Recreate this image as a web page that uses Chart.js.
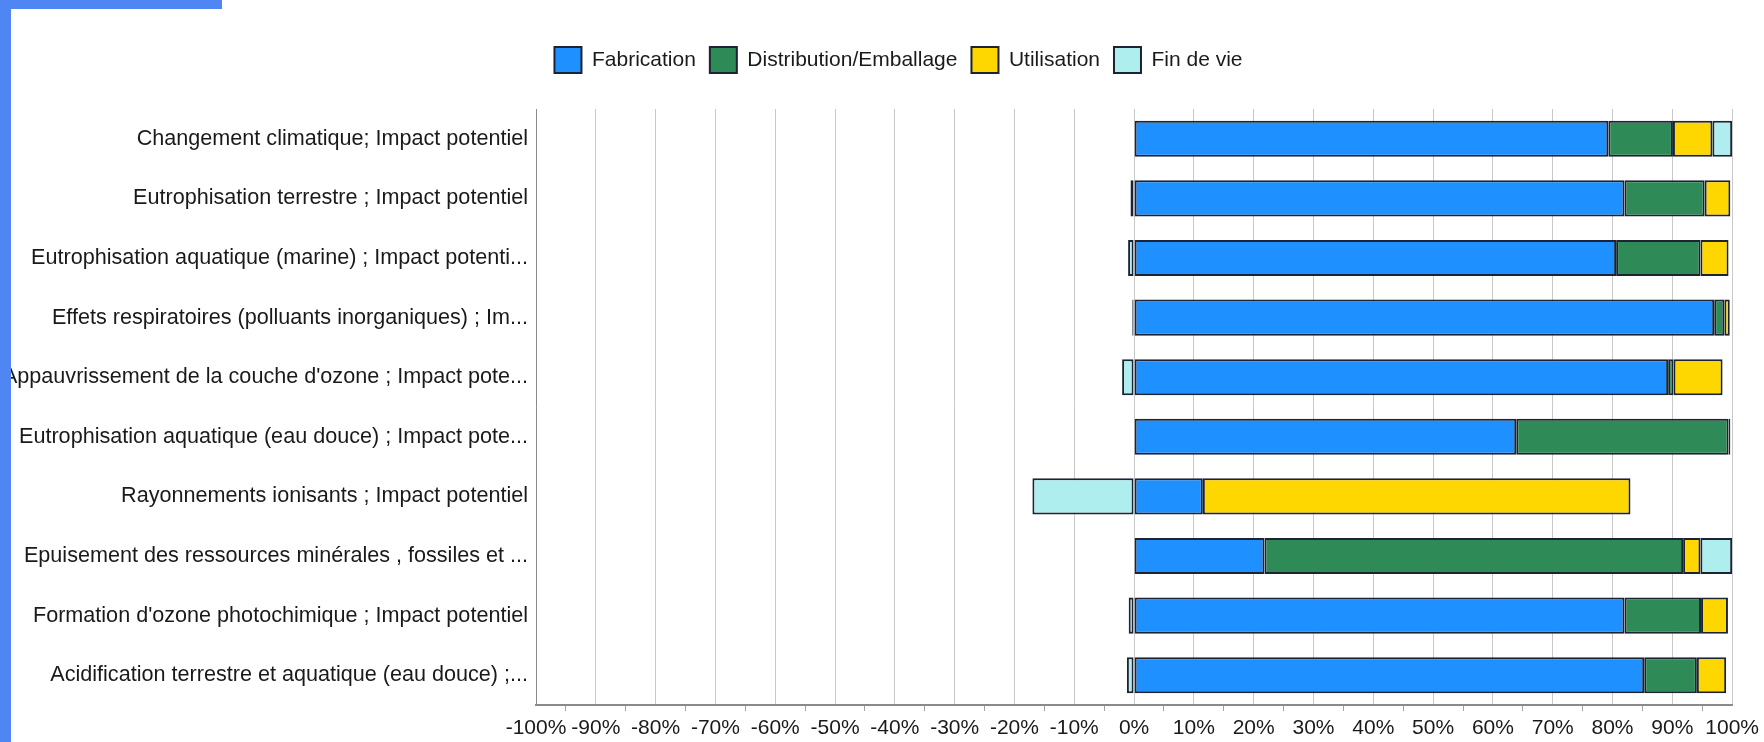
<!DOCTYPE html>
<html>
<head>
<meta charset="utf-8">
<script src="https://cdn.jsdelivr.net/npm/chart.js@4.4.1/dist/chart.umd.min.js"></script>
<style>
  html, body { margin: 0; padding: 0; background: #ffffff; }
  #wrap { position: relative; width: 1764px; height: 742px; overflow: hidden; background: #ffffff; }
  #c { position: absolute; left: 0; top: 0; }
  .strip { position: absolute; background: #4f86f4; }
</style>
</head>
<body>
<div id="wrap">
  <canvas id="c" width="1764" height="742"></canvas>
  <div class="strip" style="left:0;top:0;width:11px;height:742px;"></div>
  <div class="strip" style="left:0;top:0;width:222px;height:9px;"></div>
</div>
<script>
// ---- Data ----
const categories = [
  "Changement climatique; Impact potentiel",
  "Eutrophisation terrestre ; Impact potentiel",
  "Eutrophisation aquatique (marine) ; Impact potenti...",
  "Effets respiratoires (polluants inorganiques) ; Im...",
  "Appauvrissement de la couche d'ozone ; Impact pote...",
  "Eutrophisation aquatique (eau douce) ; Impact pote...",
  "Rayonnements ionisants ; Impact potentiel",
  "Epuisement des ressources minérales , fossiles et ...",
  "Formation d'ozone photochimique ; Impact potentiel",
  "Acidification terrestre et aquatique (eau douce) ;..."
];
const seriesNames = ["Fabrication", "Distribution/Emballage", "Utilisation", "Fin de vie"];
const fabrication  = [79.3, 82.0, 80.6, 97.0, 89.3, 63.9, 11.5, 21.8, 82.0, 85.3];
const distribution = [10.8, 13.4, 14.1, 1.7, 0.9, 35.5, null, 70.0, 12.8, 8.8];
const utilisation  = [6.6, 4.3, 4.7, 0.9, 8.2, 0.3, 71.5, 2.9, 4.5, 4.9];
const finDeVie     = [3.3, -0.6, -1.0, -0.3, -2.0, null, -17.0, 5.3, -0.9, -1.2];
const xMin = -100, xMax = 100, xMajorStep = 10, xMinorStep = 5;

// ---- Styles ----
const colors = ["#1e90ff", "#2e8b57", "#ffd700", "#afeeee"];
const barBorder = "#1c2333";
const FONT = "'Liberation Sans', Arial, sans-serif";

const seriesValues = [fabrication, distribution, utilisation, finDeVie];
const datasets = seriesNames.map((name, i) => ({
  label: name,
  data: seriesValues[i],
  backgroundColor: colors[i],
  borderColor: barBorder,
  borderWidth: 2,
  borderSkipped: false,
  categoryPercentage: 1.0,
  barPercentage: 0.605
}));

const legendSpacer = {
  id: 'legendSpacer',
  beforeInit(chart) {
    const orig = chart.legend.fit;
    chart.legend.fit = function () {
      orig.call(this);
      this.height = 76;
    };
  },
  afterLayout(chart) {
    // shift the legend block to the right, as in the reference
    chart.legend.left += 32;
    chart.legend.right += 32;
  }
};

new Chart(document.getElementById('c'), {
  type: 'bar',
  data: { labels: categories, datasets: datasets },
  plugins: [legendSpacer],
  options: {
    indexAxis: 'y',
    responsive: false,
    animation: false,
    devicePixelRatio: 1,
    layout: { padding: { left: 0, right: 31, top: 33, bottom: 0 } },
    plugins: {
      legend: {
        position: 'top',
        align: 'center',
        labels: {
          boxWidth: 27,
          boxHeight: 26,
          padding: 14,
          color: '#1a1a1a',
          font: { family: FONT, size: 21 }
        }
      },
      tooltip: { enabled: false }
    },
    scales: {
      x: {
        stacked: true,
        min: xMin,
        max: xMax,
        afterFit(scale) { scale.height = 37; },
        ticks: {
          stepSize: xMinorStep,
          autoSkip: false,
          maxRotation: 0,
          minRotation: 0,
          padding: 5,
          color: '#1a1a1a',
          font: { family: FONT, size: 21 },
          callback: (v) => (Math.round(v) % xMajorStep === 0 ? v + '%' : '')
        },
        grid: {
          color: (ctx) => (ctx.tick && Math.round(ctx.tick.value) % xMajorStep === 0 ? '#c8c8c8' : 'rgba(0,0,0,0)'),
          tickColor: (ctx) => (ctx.tick && Math.round(ctx.tick.value) % xMajorStep === 0 ? 'rgba(0,0,0,0)' : '#a0a0a0'),
          lineWidth: 1,
          drawTicks: true,
          tickLength: 6
        },
        border: { display: true, color: '#8a8a8a', width: 2 }
      },
      y: {
        stacked: true,
        afterFit(scale) { scale.width = 536; },
        ticks: {
          padding: 8,
          color: '#1a1a1a',
          font: { family: FONT, size: 21.6 },
          autoSkip: false
        },
        grid: { drawOnChartArea: false, drawTicks: false },
        border: { display: true, color: '#8a8a8a', width: 1 }
      }
    }
  }
});
</script>
</body>
</html>
